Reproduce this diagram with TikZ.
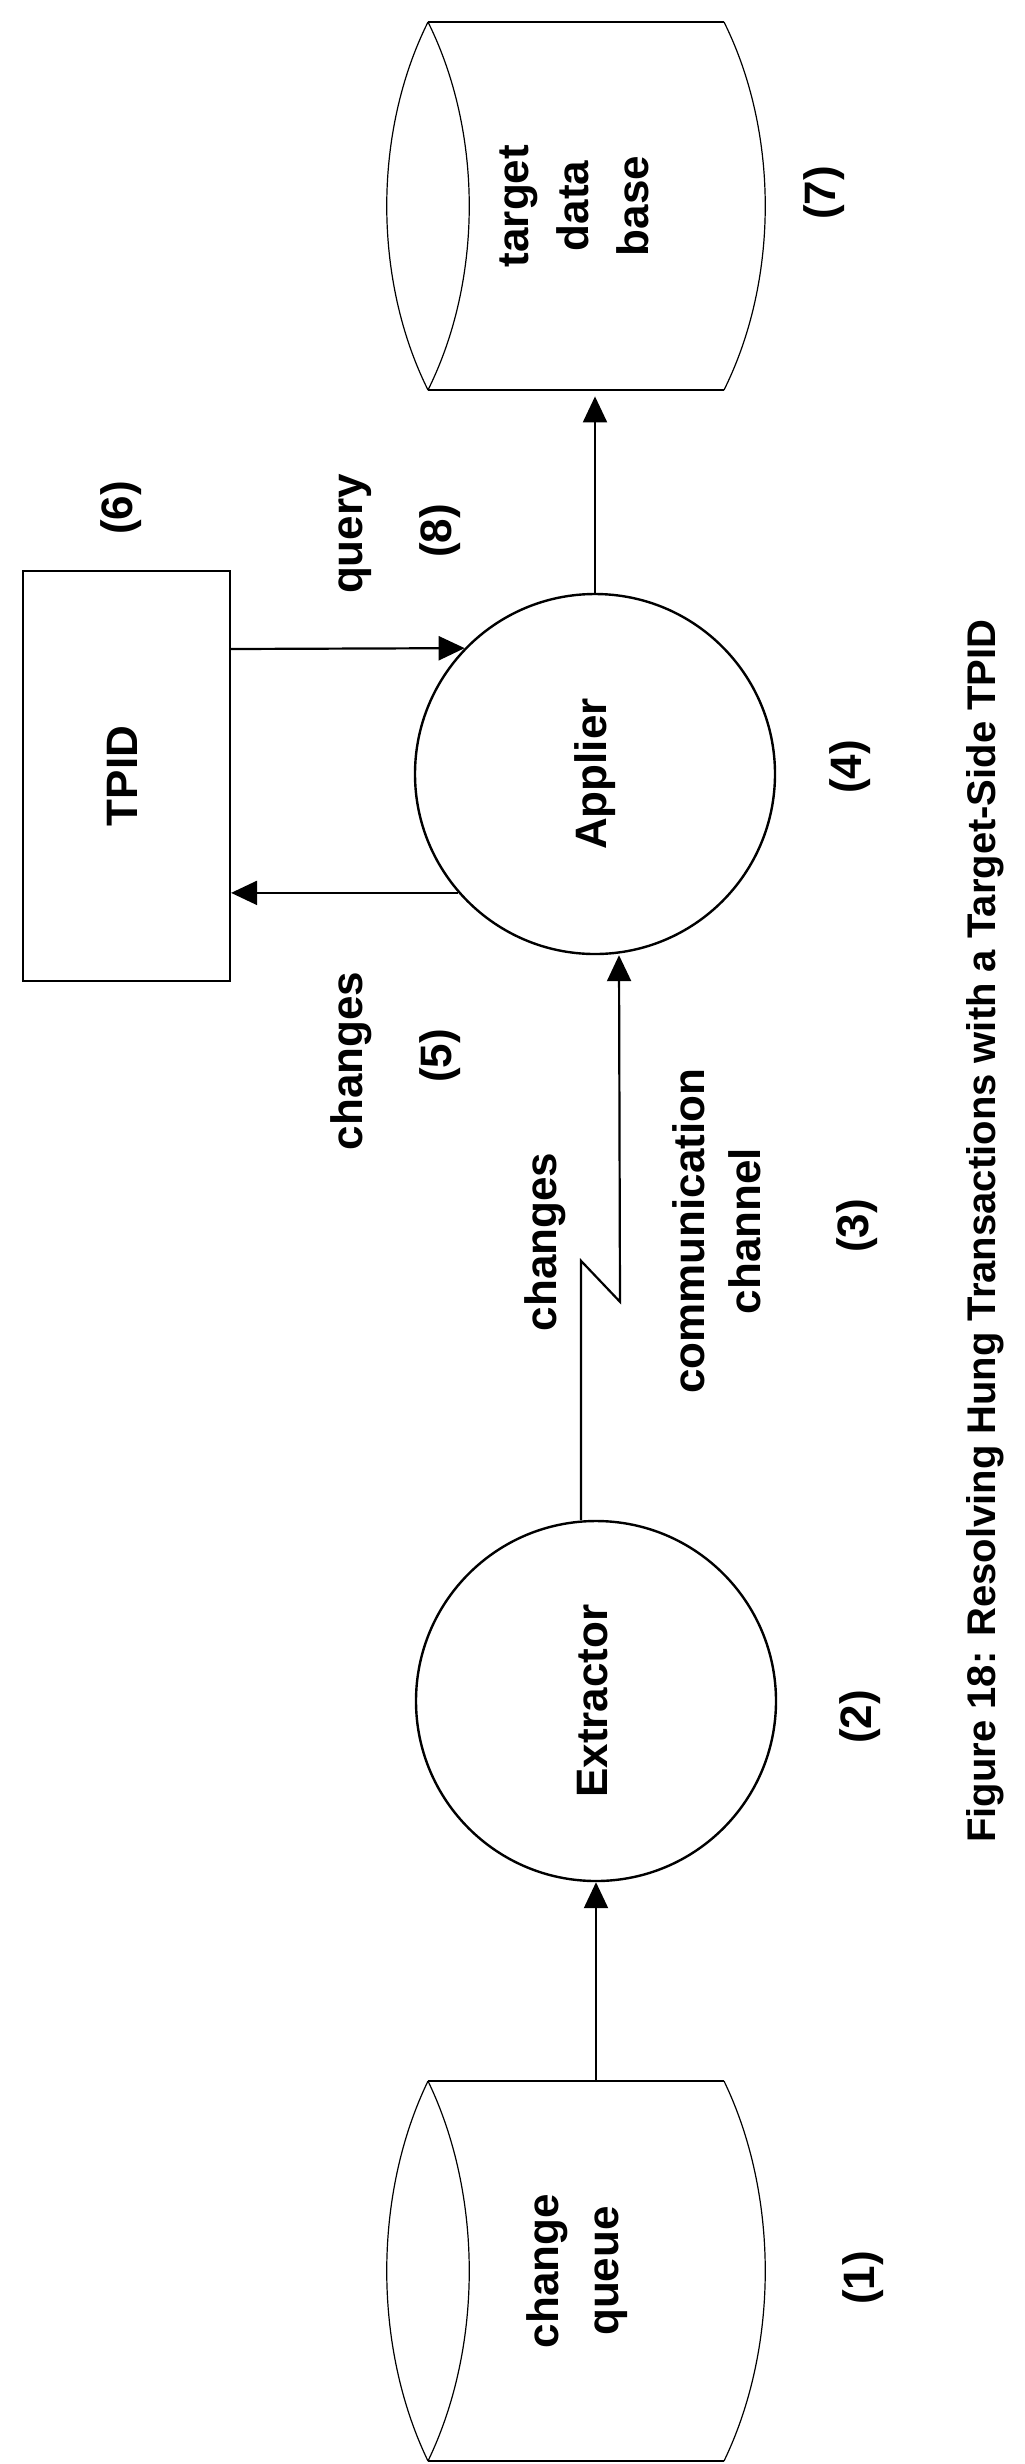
\documentclass[tikz,border=0pt]{standalone}
\usepackage{fontspec}
\setmainfont{Liberation Sans}
\usetikzlibrary{arrows.meta}
\newcommand{\vtext}[1]{\rotatebox{90}{\begin{tabular}{@{}c@{}}#1\end{tabular}}}
\begin{document}
\begin{tikzpicture}[x=0.5pt, y=-0.5pt,
        lbl/.style={font=\fontsize{22}{28}\selectfont\bfseries, rotate=90, align=center},
        proc/.style={circle, draw, line width=1.2pt, minimum size=180pt, inner sep=0pt, font=\fontsize{22}{28}\selectfont\bfseries},
        store/.style={draw=none, inner sep=0pt, minimum width=148pt, minimum height=190pt, font=\fontsize{22}{30}\selectfont\bfseries},
        arr/.style={line width=1.1pt, -{Triangle[length=13pt,width=12pt]}}
    ]
    \useasboundingbox (0,0) rectangle (1024,2464);

    % Datenbanken (liegende Zylinder)
    \foreach \top/\bot in {22/390, 2081/2461} {
        \draw[line width=0.6pt] (428,\top) -- (724,\top);
        \draw[line width=0.6pt] (428,\bot) -- (724,\bot);
        \draw[line width=0.6pt] (428,\top) .. controls (373,{\top+0.3*(\bot-\top)}) and (373,{\bot-0.3*(\bot-\top)}) .. (428,\bot);
        \draw[line width=0.6pt] (428,\top) .. controls (483,{\top+0.3*(\bot-\top)}) and (483,{\bot-0.3*(\bot-\top)}) .. (428,\bot);
        \draw[line width=0.6pt] (724,\top) .. controls (779,{\top+0.3*(\bot-\top)}) and (779,{\bot-0.3*(\bot-\top)}) .. (724,\bot);
    }
    \node[store] (db) at (576,206) {\vtext{target\\data\\base}};
    \node[store] (cq) at (576,2271) {\vtext{change\\queue}};

    % Prozesse
    \node[proc] (ext) at (596,1701) {\vtext{Extractor}};
    \node[proc] (app) at (595,774) {\vtext{Applier}};
    \node[draw, line width=1.1pt, minimum width=103.5pt, minimum height=205pt, font=\fontsize{22}{28}\selectfont\bfseries] (tpid) at (126.5,776) {\vtext{TPID}};

    % Verbindungen
    \draw[arr] (ext.center |- cq.north) -- (ext.south);
    \draw[arr] ([xshift=-7.5pt]ext.north) -- ++(0,-259) -- ++(39,41) -- ([xshift=12pt]app.south);
    \draw[arr] (app.north) -- (app.north |- db.south);
    \draw[arr] ([yshift=63.5pt]tpid.east) -- (app.136);
    \draw[arr] (app.221) -- (app.221 -| tpid.east);

    % Beschriftungen
    \node[lbl] (l1) at (863,2278) {(1)};
    \node[lbl] (l2) at (860,1717) {(2)};
    \node[lbl] (l3) at (857,1226) {(3)};
    \node[lbl] (l4) at (850,767) {(4)};
    \node[lbl] (l5) at (440,1056) {(5)};
    \node[lbl] (l6) at (121,508) {(6)};
    \node[lbl] (l7) at (824,193) {(7)};
    \node[lbl] (l8) at (440,531) {(8)};
    \node[lbl] (chg) at (545,1242) {changes};
    \node[lbl] (comm) at (717,1231) {communication\\channel};
    \node[lbl] (chg5) at (351,1061) {changes};
    \node[lbl] (qry) at (355,534) {query};
    \node[lbl, font=\fontsize{20}{24}\selectfont\bfseries] (cap) at (985,1231) {Figure 18: Resolving Hung Transactions with a Target-Side TPID};
\end{tikzpicture}
\end{document}
